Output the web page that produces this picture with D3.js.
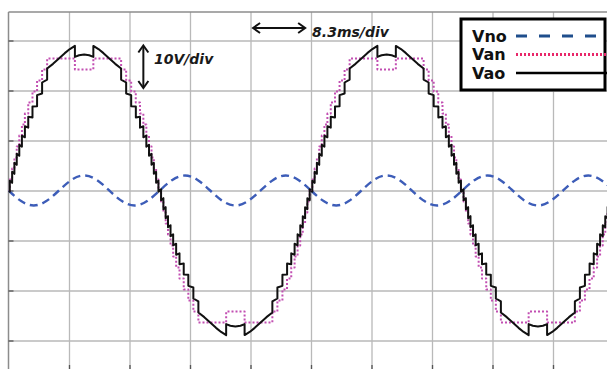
<!DOCTYPE html>
<html>

<head>
    <title>Vno / Van / Vao waveforms</title>
    <style>
        html,
        body {
            margin: 0;
            padding: 0;
            background-color: #FFFFFF;
        }

        #chart svg {
            display: block;
        }

        .grid line {
            stroke: #b9b9b9;
            stroke-width: 1.3;
        }

        .grid .domain {
            display: none;
        }

        .ticks line {
            stroke: #555;
            stroke-width: 1.3;
        }

        .ticks .domain {
            display: none;
        }

        .note {
            font-family: 'DejaVu Sans', sans-serif;
            font-weight: bold;
            font-style: italic;
            font-size: 14px;
            fill: #1a1a1a;
        }

        .legend-text {
            font-family: 'DejaVu Sans', sans-serif;
            font-weight: bold;
            font-size: 16px;
            fill: #111;
        }
    </style>
</head>

<body>
    <div id="chart"></div>

    <script src="https://cdnjs.cloudflare.com/ajax/libs/d3/7.6.1/d3.min.js"></script>

    <script>
        // one period of each trace, time in ms, voltage in V
        const cycleStarts = [0, 41.5];

        const vnoT = [0, 1.73, 3.46, 5.19, 6.92, 8.65, 10.38, 12.1, 13.83, 15.56, 17.29, 19.02, 20.75,
            22.48, 24.21, 25.94, 27.67, 29.4, 31.13, 32.85, 34.58, 36.31, 38.04, 39.77, 41.5];
        const vnoV = [0, -2.12, -3, -2.12, 0, 2.12, 3, 2.12, 0, -2.12, -3, -2.12, 0,
            2.12, 3, 2.12, 0, -2.12, -3, -2.12, 0, 2.12, 3, 2.12, 0];

        // staircase, each level held until the next time
        const vanT = [0, 0.18, 0.50, 0.81, 1.13, 1.48, 1.84, 2.25, 2.71, 3.29, 3.92, 4.61, 5.30, 9.11, 11.64,
            15.45, 16.14, 16.83, 17.46, 18.04, 18.50, 18.91, 19.27, 19.62, 19.94, 20.25, 20.57,
            20.93, 21.25, 21.56, 21.88, 22.23, 22.59, 23.00, 23.46, 24.04, 24.67, 25.36, 26.05, 29.86, 32.39,
            36.20, 36.89, 37.58, 38.21, 38.79, 39.25, 39.66, 40.02, 40.37, 40.69, 41.00, 41.32, 41.5];
        const vanV = [0, 2.2, 4.4, 6.6, 8.8, 11, 13.2, 15.4, 17.6, 19.8, 22, 24.2, 26.4, 24.2, 26.4,
            24.2, 22, 19.8, 17.6, 15.4, 13.2, 11, 8.8, 6.6, 4.4, 2.2, 0,
            -2.2, -4.4, -6.6, -8.8, -11, -13.2, -15.4, -17.6, -19.8, -22, -24.2, -26.4, -24.2, -26.4,
            -24.2, -22, -19.8, -17.6, -15.4, -13.2, -11, -8.8, -6.6, -4.4, -2.2, 0, 0];

        const vaoT = [0, 0.18, 0.18, 0.50, 0.50, 0.81, 0.81, 1.13, 1.13, 1.48, 1.48, 1.84, 1.84, 2.25, 2.25,
            2.71, 2.71, 3.29, 3.29, 3.92, 3.92, 4.61, 4.61, 5.30, 5.30, 6.11, 6.92, 7.72, 8.42, 9.11, 9.11,
            9.68, 10.38, 11.07, 11.64, 11.64, 12.34, 13.03, 13.83, 14.64, 15.45, 15.45, 16.14, 16.14,
            16.83, 16.83, 17.47, 17.47, 18.04, 18.04, 18.50, 18.50, 18.91, 18.91, 19.28, 19.28,
            19.62, 19.62, 19.94, 19.94, 20.25, 20.25, 20.57, 20.57, 20.75,
            20.93, 20.93, 21.25, 21.25, 21.56, 21.56, 21.88, 21.88, 22.23, 22.23, 22.59, 22.59, 23.00, 23.00,
            23.46, 23.46, 24.04, 24.04, 24.67, 24.67, 25.36, 25.36, 26.05, 26.05, 26.86, 27.67, 28.47, 29.17,
            29.86, 29.86, 30.43, 31.13, 31.82, 32.39, 32.39, 33.09, 33.78, 34.58, 35.39, 36.20, 36.20,
            36.89, 36.89, 37.58, 37.58, 38.22, 38.22, 38.79, 38.79, 39.25, 39.25, 39.66, 39.66, 40.03, 40.03,
            40.37, 40.37, 40.69, 40.69, 41.00, 41.00, 41.32, 41.32, 41.50];
        const vaoV = [0, -0.25, 1.95, 1.53, 3.73, 3.33, 5.53, 5.13, 7.33, 6.94, 9.14, 8.77, 10.97, 10.64, 12.84,
            12.57, 14.77, 14.61, 16.81, 16.87, 19.07, 19.4, 21.6, 22.19, 24.39, 25.33, 26.4, 27.47, 28.29, 28.92, 26.72,
            27.05, 27.2, 27.05, 26.72, 28.92, 28.29, 27.47, 26.4, 25.33, 24.39, 22.19, 21.6, 19.4,
            19.07, 16.87, 16.81, 14.61, 14.77, 12.57, 12.84, 10.64, 10.97, 8.77, 9.14, 6.94,
            7.33, 5.13, 5.53, 3.33, 3.73, 1.53, 1.95, -0.25, 0,
            0.25, -1.95, -1.53, -3.73, -3.33, -5.53, -5.13, -7.33, -6.94, -9.14, -8.77, -10.97, -10.64, -12.84,
            -12.57, -14.77, -14.61, -16.81, -16.87, -19.07, -19.4, -21.6, -22.19, -24.39, -25.33, -26.4, -27.47, -28.29,
            -28.92, -26.72, -27.05, -27.2, -27.05, -26.72, -28.92, -28.29, -27.47, -26.4, -25.33, -24.39, -22.19,
            -21.6, -19.4, -19.07, -16.87, -16.81, -14.61, -14.77, -12.57, -12.84, -10.64, -10.97, -8.77, -9.14, -6.94,
            -7.33, -5.13, -5.53, -3.33, -3.73, -1.53, -1.95, 0.25, 0];

        // scope grid: 8.3 ms/div and 10 V/div
        const timeTicks = [8.3, 16.6, 24.9, 33.2, 41.5, 49.8, 58.1, 66.4, 74.7, 83];
        const voltTicks = [-30, -20, -10, 0, 10, 20, 30];

        const legendNames = ['Vno', 'Van', 'Vao'];

        const width = 607;
        const height = 369;
        const plot = { left: 8.5, top: 12, right: 613.5, bottom: 369 };

        const x = d3.scaleLinear().domain([0, 83]).range([plot.left, plot.right]);
        const y = d3.scaleLinear().domain([-35.7, 35.7]).range([plot.bottom, plot.top]);

        const svg = d3.select('#chart')
            .append('svg')
            .attr('width', width)
            .attr('height', height);

        svg.append('rect').attr('width', width).attr('height', height).attr('fill', '#fff');

        svg.append('defs').append('clipPath').attr('id', 'plot-clip')
            .append('rect')
            .attr('x', plot.left).attr('y', plot.top)
            .attr('width', plot.right - plot.left).attr('height', plot.bottom - plot.top);

        // grid lines
        svg.append('g')
            .attr('class', 'grid')
            .attr('transform', 'translate(0,' + plot.bottom + ')')
            .call(d3.axisBottom(x).tickValues(timeTicks).tickSize(-(plot.bottom - plot.top)).tickFormat(''));

        svg.append('g')
            .attr('class', 'grid')
            .attr('transform', 'translate(' + plot.left + ',0)')
            .call(d3.axisLeft(y).tickValues(voltTicks).tickSize(-(plot.right - plot.left)).tickFormat(''));

        // frame (top and left) with small tick marks
        svg.append('line')
            .attr('x1', plot.left).attr('x2', width)
            .attr('y1', plot.top).attr('y2', plot.top)
            .attr('stroke', '#8c8c8c').attr('stroke-width', 1.5);
        svg.append('line')
            .attr('x1', plot.left).attr('x2', plot.left)
            .attr('y1', plot.top).attr('y2', plot.bottom)
            .attr('stroke', '#8c8c8c').attr('stroke-width', 1.5);

        svg.append('g')
            .attr('class', 'ticks')
            .attr('transform', 'translate(' + plot.left + ',0)')
            .call(d3.axisRight(y).tickValues(voltTicks).tickSize(5).tickFormat(''));

        svg.append('g')
            .attr('class', 'ticks')
            .attr('transform', 'translate(0,' + plot.bottom + ')')
            .call(d3.axisTop(x).tickValues(timeTicks).tickSize(4).tickFormat(''));

        // traces
        const traces = svg.append('g').attr('clip-path', 'url(#plot-clip)');

        function drawTrace(ts, vs, curve, style) {
            cycleStarts.forEach(start => {
                const pts = ts.map((t, i) => [t + start, vs[i]]);
                const line = d3.line()
                    .x(d => x(d[0]))
                    .y(d => y(d[1]))
                    .curve(curve);
                const path = traces.append('path')
                    .attr('d', line(pts))
                    .attr('fill', 'none')
                    .attr('stroke', style.color)
                    .attr('stroke-width', style.width)
                    .attr('stroke-linejoin', 'round');
                if (style.dash) path.attr('stroke-dasharray', style.dash);
            });
        }

        drawTrace(vnoT, vnoV, d3.curveNatural, { color: '#3d5db8', width: 2.4, dash: '8,5' });
        drawTrace(vanT, vanV, d3.curveStepAfter, { color: '#c24fb2', width: 2, dash: '2,2' });
        drawTrace(vaoT, vaoV, d3.curveLinear, { color: '#111', width: 2 });

        // scale annotations
        const arrowHead = (px, py, dx, dy) => {
            // chevron pointing along (dx, dy)
            const s = 7, w = 5;
            const nx = -dy, ny = dx;
            return 'M' + (px - dx * s + nx * w) + ',' + (py - dy * s + ny * w) +
                'L' + px + ',' + py +
                'L' + (px - dx * s - nx * w) + ',' + (py - dy * s - ny * w);
        };

        const notes = svg.append('g')
            .attr('fill', 'none')
            .attr('stroke', '#111')
            .attr('stroke-width', 2);

        // 10 V/div arrow
        const vx = x(18.5), vy1 = y(29), vy2 = y(20.5);
        notes.append('line').attr('x1', vx).attr('x2', vx).attr('y1', vy1 + 1).attr('y2', vy2 - 1);
        notes.append('path').attr('d', arrowHead(vx, vy1, 0, -1));
        notes.append('path').attr('d', arrowHead(vx, vy2, 0, 1));

        svg.append('text').attr('class', 'note')
            .attr('x', x(19.95)).attr('y', y(25.3))
            .text('10V/div');

        // 8.3 ms/div arrow
        const hy = y(32.5), hx1 = x(33.55), hx2 = x(40.7);
        notes.append('line').attr('x1', hx1 + 1).attr('x2', hx2 - 1).attr('y1', hy).attr('y2', hy);
        notes.append('path').attr('d', arrowHead(hx1, hy, -1, 0));
        notes.append('path').attr('d', arrowHead(hx2, hy, 1, 0));

        svg.append('text').attr('class', 'note')
            .attr('x', x(41.65)).attr('y', y(30.8))
            .text('8.3ms/div');

        // legend
        const legend = svg.append('g').attr('transform', 'translate(461,19)');

        legend.append('rect')
            .attr('x', 0).attr('y', 0)
            .attr('width', 144).attr('height', 71)
            .attr('fill', '#fff')
            .attr('stroke', '#000')
            .attr('stroke-width', 3);

        const legendStyles = [
            { color: '#1f4e8c', width: 3, dash: '11,12' },
            { color: '#e8286a', width: 3, dash: '2,2' },
            { color: '#000', width: 2.5, dash: null }
        ];

        legendNames.forEach((name, i) => {
            const rowY = 17 + i * 18.5;
            legend.append('text')
                .attr('class', 'legend-text')
                .attr('x', 11)
                .attr('y', rowY + 5.5)
                .text(name);
            const ln = legend.append('line')
                .attr('x1', 55).attr('x2', 146)
                .attr('y1', rowY).attr('y2', rowY)
                .attr('stroke', legendStyles[i].color)
                .attr('stroke-width', legendStyles[i].width);
            if (legendStyles[i].dash) ln.attr('stroke-dasharray', legendStyles[i].dash);
        });
    </script>
</body>

</html>
